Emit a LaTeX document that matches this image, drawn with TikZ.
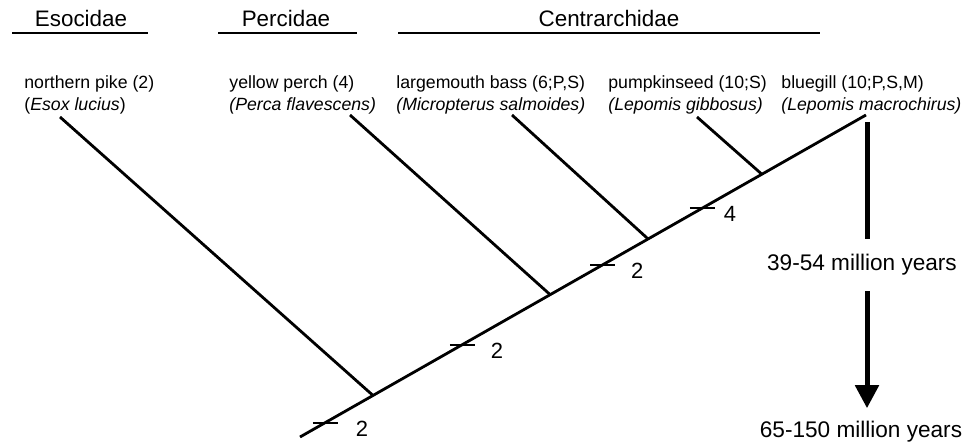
\documentclass[tikz,border=0pt]{standalone}
\usepackage{fontspec}
\setmainfont{Liberation Sans}
\usetikzlibrary{arrows.meta, positioning, calc}

\tikzset{
  species/.style={anchor=north west, align=left, inner sep=0pt, font=\fontsize{17.7pt}{22pt}\selectfont},
  family/.style={anchor=base, inner sep=0pt, font=\fontsize{22.4pt}{26pt}\selectfont},
  age/.style={anchor=base, inner xsep=0pt, font=\fontsize{22.6pt}{27pt}\selectfont},
  steplabel/.style={inner sep=0pt, font=\fontsize{22pt}{26pt}\selectfont},
  tickmark/.style={line width=2pt},
  rule/.style={line width=2pt},
}

\begin{document}
\begin{tikzpicture}[x=1pt, y=-1pt, line width=2.8pt]
    \useasboundingbox (0,0) rectangle (964,443);

    % Families
    \node[family] (eso) at (81,27) {Esocidae};
    \node[family] (perc) at (286,27) {Percidae};
    \node[family] (cent) at (609,27) {Centrarchidae};
    \draw[rule] (12,33) -- (148,33);
    \draw[rule] (218,33) -- (357,33);
    \draw[rule] (398,33) -- (820,33);

    % Species
    \node[species] (pike) at (23,74) {northern pike (2)\\(\textit{Esox lucius})};
    \node[species] (perch) at (228,74) {yellow perch (4)\\\textit{(Perca flavescens)}};
    \node[species] (bass) at (395,74) {largemouth bass (6;P,S)\\\textit{(Micropterus salmoides)}};
    \node[species] (pump) at (607,74) {pumpkinseed (10;S)\\\textit{(Lepomis gibbosus)}};
    \node[species] (blue) at (780,74) {bluegill (10;P,S,M)\\\textit{(Lepomis macrochirus)}};

    % Tree
    \coordinate (root) at (300,437);
    \coordinate (tip) at (866,115);
    \draw (root) -- (tip);
    \coordinate (jPike) at ($(root)!0.129!(tip)$);
    \coordinate (jPerch) at ($(root)!0.442!(tip)$);
    \coordinate (jBass) at ($(root)!0.615!(tip)$);
    \coordinate (jPump) at ($(root)!0.816!(tip)$);
    \coordinate (pikeTop) at (60,117);
    \coordinate (perchTop) at (350,115);
    \coordinate (bassTop) at (512,115);
    \coordinate (pumpTop) at (697,117);
    \draw (jPike) -- (pikeTop);
    \draw (jPerch) -- (perchTop);
    \draw (jBass) -- (bassTop);
    \draw (jPump) -- (pumpTop);

    % Steps on the stem
    \foreach \i/\t/\lab/\dx in {1/0.044/2/37, 2/0.286/2/35, 3/0.534/2/35, 4/0.71/4/28} {
        \coordinate (tick\i) at ($(root)!\t!(tip)$);
        \draw[tickmark] ($(tick\i)+(-12,0)$) -- ($(tick\i)+(13,0)$);
        \node[steplabel] (lab\i) at ($(tick\i)+(\dx,6)$) {\lab};
    }

    % Time scale
    \coordinate (ageTop) at (867,122);
    \node[age, inner ysep=14pt] (age1) at (862,271) {39-54 million years};
    \node[age, inner ysep=12pt] (age2) at (861,438) {65-150 million years};
    \draw[line width=5pt] (ageTop) -- (ageTop |- age1.north);
    \draw[line width=5pt, -{Triangle[length=23pt, width=23pt]}] (ageTop |- age1.south) -- (ageTop |- age2.north);
\end{tikzpicture}
\end{document}
